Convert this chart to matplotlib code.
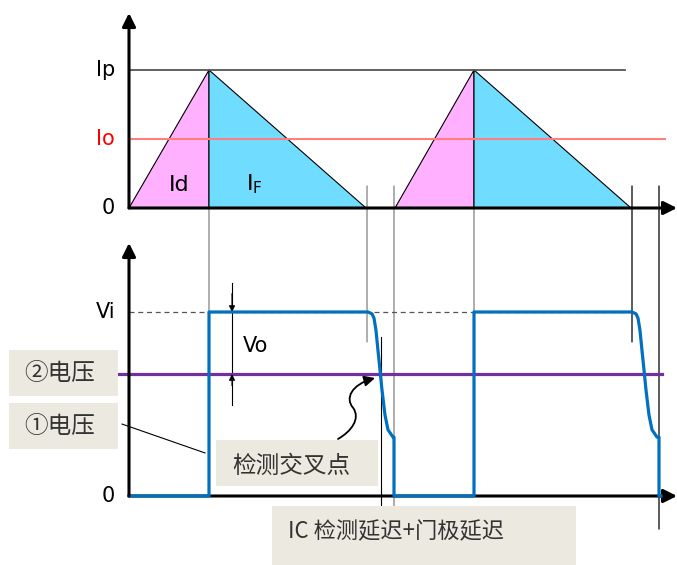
import numpy as np
import matplotlib
matplotlib.use('Agg')
import matplotlib.pyplot as plt
from matplotlib.patches import Rectangle, ConnectionPatch, FancyArrowPatch
from matplotlib.path import Path

# ---- data (time in arbitrary units, current / voltage normalised) ----
Ip = 1.0          # peak current
Io = 0.5          # output current
tri_start = [0, 266]
tri_peak = [80, 345]
tri_end = [237, 502]

Vi = 1.0          # input voltage level
V2 = 0.663        # "②电压" level
pulse_on = [80, 345]
fall_start = [239, 503]
pulse_off = [265, 530]
# falling edge (offset from fall start, level)
fall_dt = [0, 4, 6, 8, 10, 12, 14, 17, 20, 25]
fall_v = [1.0, 0.99, 0.967, 0.90, 0.79, 0.685, 0.576, 0.44, 0.36, 0.32]

# guide lines: time, top panel level, bottom panel level, colour
guides = [(80, 1.0, 0.875, '#808080'), (238, 0.16, 0.837, '#808080'),
          (265, 0.16, -0.06, '#808080'), (345, 1.0, 0.875, '#808080'),
          (503, 0.16, 0.837, 'black'), (530, 0.16, -0.18, 'black')]
det_t = 252       # detection crossing (bottom only)

pink = '#FFB0FF'
cyan = '#70DCFF'
blue = '#0070C0'
purple = '#7030A0'
boxc = '#ECEAE0'
cjk = ['Noto Sans CJK SC', 'DejaVu Sans']

W, H = 677, 565
fig = plt.figure(figsize=(W/100, H/100), dpi=100)

def fbox(x0, y0, x1, y1):
    return [x0/W, 1 - y1/H, (x1 - x0)/W, (y1 - y0)/H]

ax1 = fig.add_axes(fbox(0, 0, W, 225))
ax1.set_xlim(-129, 548)
ax1.set_ylim(-17/138, 208/138)
ax2 = fig.add_axes(fbox(0, 225, W, H))
ax2.set_xlim(-129, 548)
ax2.set_ylim(-69/184, 271/184)
for a in (ax1, ax2):
    a.axis('off')
    a.patch.set_visible(False)

arr = dict(arrowstyle='-|>', color='black', lw=2.2, mutation_scale=20,
           shrinkA=0, shrinkB=0)

# ---- top panel: inductor current ----
for s, p, e in zip(tri_start, tri_peak, tri_end):
    ax1.fill([s, p, p], [0, Ip, 0], fc=pink, ec='black', lw=0.8, zorder=2)
    ax1.fill([p, p, e], [0, Ip, 0], fc=cyan, ec='black', lw=0.8, zorder=2)
ax1.plot([0, 496], [Ip, Ip], color='#555555', lw=1.3, zorder=3)
ax1.plot([0, 536], [Io, Io], color='#FF7F7F', lw=1.5, zorder=3)
ax1.annotate('', xy=(548, 0), xytext=(0, 0), arrowprops=arr, zorder=5)
ax1.annotate('', xy=(0, 195/138), xytext=(0, 0), arrowprops=arr, zorder=5)

ax1.text(-14, Ip, 'Ip', ha='right', va='center', fontsize=15)
ax1.text(-14, Io, 'Io', ha='right', va='center', fontsize=15, color='red')
ax1.text(-14, 0, '0', ha='right', va='center', fontsize=15)
ax1.text(50, 0.17, 'Id', ha='center', va='center', fontsize=16)
ax1.text(117, 0.17, r'I$_\mathregular{F}$', ha='left', va='center', fontsize=16)

# ---- bottom panel: voltage ----
wt, wv = [0], [0]
for on, fs, off in zip(pulse_on, fall_start, pulse_off):
    wt += [on, on]
    wv += [0, Vi]
    wt += [fs + d for d in fall_dt]
    wv += fall_v
    wt += [off, off]
    wv += [fall_v[-1], 0]
    wt.append(off)
    wv.append(0)
wt[-1] = wt[-1] + 2

ax2.plot([0, 503], [Vi, Vi], color='#555555', lw=0.9, ls=(0, (4, 3)), zorder=2)
ax2.plot([-11, 533], [V2, V2], color=purple, lw=2.3, zorder=3)
ax2.annotate('', xy=(548, 0), xytext=(0, 0), arrowprops=arr, zorder=2)
ax2.annotate('', xy=(0, 253/184), xytext=(0, 0), arrowprops=arr, zorder=5)
ax2.plot(wt, wv, color=blue, lw=2.3, zorder=4, solid_joinstyle='round')

ax2.text(-14, Vi, 'Vi', ha='right', va='center', fontsize=15)
ax2.text(-14, 0, '0', ha='right', va='center', fontsize=15)

# Vo dimension
ax2.plot([103, 103], [1.158, 0.495], color='black', lw=0.8)
small = dict(arrowstyle='-|>', color='black', lw=0.8, mutation_scale=9,
             shrinkA=0, shrinkB=0)
ax2.annotate('', xy=(103, Vi), xytext=(103, 1.10), arrowprops=small)
ax2.annotate('', xy=(103, V2), xytext=(103, 0.60), arrowprops=small)
ax2.text(114, 0.815, 'Vo', va='center', fontsize=15)

# detection line
ax2.plot([det_t, det_t], [0.864, -0.06], color='black', lw=0.8, zorder=1)

# leader from ① label
ax2.plot([-7, 76], [0.391, 0.234], color='black', lw=0.8)

# curvy arrow to crossing point
verts = [(209, 0.31), (222, 0.35), (232, 0.42), (224, 0.48),
         (216, 0.53), (222, 0.605), (246, 0.641)]
codes = [Path.MOVETO] + [Path.CURVE4] * 6
ax2.add_patch(FancyArrowPatch(path=Path(verts, codes), arrowstyle='-|>',
                              mutation_scale=16, lw=1.3, color='black'))

# guide lines spanning both panels
for t, vt, vb, c in guides:
    con = ConnectionPatch(xyA=(t, vt), coordsA=ax1.transData,
                          xyB=(t, vb), coordsB=ax2.transData,
                          color=c, lw=0.9, zorder=-1)
    fig.add_artist(con)

# ---- label boxes ----
boxes = [((9, 350, 118, 396), '②电压', 24, 373, 17),
         ((9, 403, 118, 449), '①电压', 24, 426, 17),
         ((216, 440, 378, 486), '检测交叉点', 232, 466, 17),
         ((272, 506, 576, 565), 'IC 检测延迟+门极延迟', 288, 532, 16)]
for (x0, y0, x1, y1), txt, tx, ty, fs in boxes:
    r = fbox(x0, y0, x1, y1)
    fig.add_artist(Rectangle((r[0], r[1]), r[2], r[3], transform=fig.transFigure,
                             fc=boxc, ec='none', zorder=6))
    fig.text(tx/W, 1 - ty/H, txt, ha='left', va='center', fontsize=fs,
             color='#333333', family=cjk, zorder=7)

fig.savefig('out.png', dpi=100)
